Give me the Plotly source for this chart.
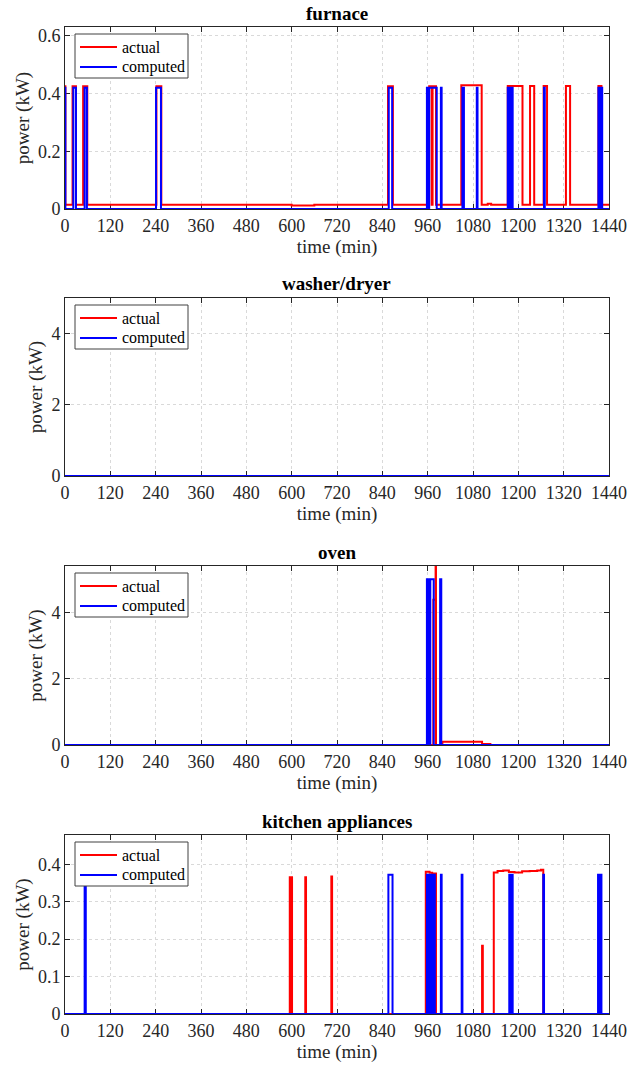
import plotly.graph_objects as go

# ---------------- data (step breakpoints, minutes / kW) ----------------
time_ticks = [0, 120, 240, 360, 480, 600, 720, 840, 960, 1080, 1200, 1320, 1440]

panel_titles = ["furnace", "washer/dryer", "oven", "kitchen appliances"]
legend_labels = ["actual", "computed"]

furnace_actual_t = [0, 1, 20, 29, 48, 59, 242, 255, 600, 660, 855, 868, 964, 971, 973, 982,
                    1049, 1103, 1119, 1128, 1172, 1211, 1231, 1242, 1267, 1276, 1326, 1337,
                    1412, 1420, 1440]
furnace_actual_p = [0.425, 0.015, 0.425, 0.015, 0.425, 0.015, 0.425, 0.015, 0.012, 0.015,
                    0.425, 0.015, 0.425, 0.015, 0.425, 0.015, 0.428, 0.015, 0.018, 0.015,
                    0.426, 0.015, 0.426, 0.015, 0.426, 0.015, 0.426, 0.015, 0.426, 0.015, 0.015]

furnace_computed_t = [0, 1, 22, 29, 52, 58, 241, 254, 857, 866, 958, 963, 964, 984, 995, 997,
                      1052, 1056, 1090, 1092, 1172, 1174, 1175, 1177, 1178, 1180, 1181, 1183,
                      1184, 1185, 1268, 1270, 1412, 1414, 1415, 1417, 1418, 1420, 1421, 1422, 1440]
furnace_computed_p = [0.42, 0, 0.42, 0, 0.42, 0, 0.42, 0, 0.42, 0, 0.42, 0, 0.42, 0, 0.42, 0,
                      0.42, 0, 0.42, 0, 0.42, 0, 0.42, 0, 0.42, 0, 0.42, 0,
                      0.42, 0, 0.42, 0, 0.42, 0, 0.42, 0, 0.42, 0, 0.42, 0, 0]

washer_actual_t = [0, 1440]
washer_actual_p = [0, 0]
washer_computed_t = [0, 1440]
washer_computed_p = [0, 0]

oven_actual_t = [0, 975, 981, 982, 999, 1104, 1126, 1440]
oven_actual_p = [0, 4.38, 5.6, 0, 0.1, 0.03, 0, 0]

oven_computed_t = [0, 958, 962, 963, 966, 967, 976, 993, 996, 1440]
oven_computed_p = [0, 5.0, 0, 5.0, 0, 5.0, 0, 5.0, 0, 0]

kitchen_actual_t = [0, 595, 597, 599, 601, 636, 638, 705, 707, 955, 965, 972, 982, 1104, 1106,
                    1135, 1145, 1160, 1175, 1190, 1210, 1230, 1250, 1260, 1266, 1440]
kitchen_actual_p = [0, 0.365, 0, 0.365, 0, 0.365, 0, 0.367, 0, 0.38, 0.377, 0.375, 0, 0.182, 0,
                    0.378, 0.382, 0.383, 0.379, 0.378, 0.381, 0.382, 0.383, 0.385, 0, 0]

kitchen_computed_t = [0, 52, 55, 856, 867, 958, 960, 961, 964, 965, 968, 969, 973, 977, 979,
                      995, 997, 1050, 1052, 1176, 1178, 1179, 1181, 1182, 1185, 1266, 1268,
                      1411, 1413, 1414, 1416, 1417, 1420, 1440]
kitchen_computed_p = [0, 0.372, 0, 0.372, 0, 0.372, 0, 0.372, 0, 0.372, 0, 0.372, 0, 0.372, 0,
                      0.372, 0, 0.372, 0, 0.372, 0, 0.372, 0, 0.372, 0, 0.372, 0,
                      0.372, 0, 0.372, 0, 0.372, 0, 0]

y_ranges = [[0, 0.63], [0, 5], [0, 5.4], [0, 0.478]]
y_dticks = [0.2, 2, 2, 0.1]

series = [
    (furnace_actual_t, furnace_actual_p, furnace_computed_t, furnace_computed_p),
    (washer_actual_t, washer_actual_p, washer_computed_t, washer_computed_p),
    (oven_actual_t, oven_actual_p, oven_computed_t, oven_computed_p),
    (kitchen_actual_t, kitchen_actual_p, kitchen_computed_t, kitchen_computed_p),
]

# ---------------- layout geometry (pixels) ----------------
W, H = 639, 1066
X0, X1 = 65, 609
boxes = [(27, 209), (298, 476), (566, 745), (835, 1014)]  # (top, bottom) in px
COLORS = ["#ff0000", "#0000ff"]

FONT = "Liberation Serif, Times New Roman, serif"
TXT = "#262626"


def px(xp):
    return xp / W


def py(yp):
    return 1 - yp / H


fig = go.Figure()
annotations = []
shapes = []
layout_axes = {}

for i, (box, (at, ap, ct, cp)) in enumerate(zip(boxes, series)):
    n = "" if i == 0 else str(i + 1)
    top, bot = box
    for (tt, pp), col, lab in zip([(at, ap), (ct, cp)], COLORS, legend_labels):
        fig.add_trace(go.Scatter(x=tt, y=pp, mode="lines",
                                 line=dict(color=col, width=2, shape="hv"),
                                 name=lab, showlegend=False, hoverinfo="skip",
                                 xaxis="x" + n, yaxis="y" + n))
    axcommon = dict(showline=True, linecolor=TXT, linewidth=1, mirror="ticks", ticks="inside",
                    ticklen=5, tickcolor=TXT, showgrid=True, gridcolor="#d9d9d9", griddash="dot",
                    gridwidth=1, zeroline=False, tickfont=dict(family=FONT, size=18, color=TXT),
                    automargin=False, layer="below traces")
    layout_axes["xaxis" + n] = dict(axcommon, domain=[px(X0), px(X1)], anchor="y" + n,
                                    range=[0, 1440], tickvals=time_ticks,
                                    title=dict(text="time (min)", font=dict(family=FONT, size=19, color=TXT),
                                               standoff=2))
    layout_axes["yaxis" + n] = dict(axcommon, domain=[py(bot), py(top)], anchor="x" + n,
                                    range=y_ranges[i], dtick=y_dticks[i], tick0=0,
                                    title=dict(text="power (kW)", font=dict(family=FONT, size=19, color=TXT),
                                               standoff=3))
    annotations.append(dict(text="<b>" + panel_titles[i] + "</b>", x=px((X0 + X1) / 2),
                            y=py(top - 14), xref="paper", yref="paper", showarrow=False,
                            xanchor="center", yanchor="middle",
                            font=dict(family=FONT, size=19, color="black")))
    # legend box (drawn as paper shapes + text)
    lt, lb = top + 7, top + 51
    shapes.append(dict(type="rect", xref="paper", yref="paper", x0=px(75), x1=px(188),
                       y0=py(lb), y1=py(lt), line=dict(color="#404040", width=1),
                       fillcolor="white", layer="above"))
    for k, (col, lab) in enumerate(zip(COLORS, legend_labels)):
        yy = lt + 13 + k * 20
        shapes.append(dict(type="line", xref="paper", yref="paper", x0=px(80), x1=px(117),
                           y0=py(yy), y1=py(yy), line=dict(color=col, width=2), layer="above"))
        annotations.append(dict(text=lab, x=px(120), y=py(yy), xref="paper", yref="paper",
                                showarrow=False, xanchor="left", yanchor="middle",
                                font=dict(family=FONT, size=16, color="black")))

fig.update_layout(width=W, height=H, margin=dict(l=0, r=0, t=0, b=0),
                  paper_bgcolor="white", plot_bgcolor="white", showlegend=False,
                  hovermode=False, annotations=annotations, shapes=shapes, **layout_axes)

fig.write_html("out.html", config={"displayModeBar": False, "staticPlot": True},
               post_script="document.body.style.margin='0';")
